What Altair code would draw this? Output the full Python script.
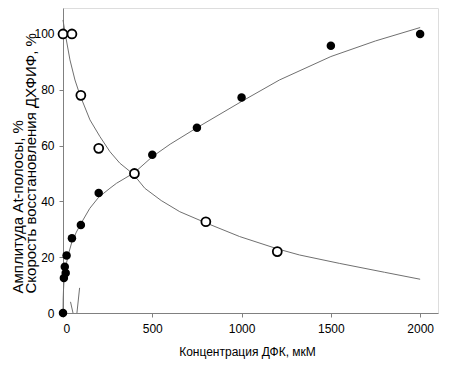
import altair as alt
import pandas as pd

# Filled circles: amplitude of At-band
amp_x = [0, 5, 10, 15, 20, 50, 100, 200, 400, 500, 750, 1000, 1500, 2000]
amp_y = [0, 12.5, 16.6, 14.3, 20.6, 26.8, 31.5, 43, 49.5, 56.7, 66.4, 77.2, 95.8, 100]

# Open circles: DCPIP reduction rate
rate_x = [0, 50, 100, 200, 400, 800, 1200]
rate_y = [100, 100, 78, 59, 50, 32.7, 22]

# Increasing fitted curve
up_x = [0, 1, 3, 6, 10, 20, 30, 50, 75, 100, 150, 200, 263, 300, 400, 500, 600, 750, 1000, 1212, 1500, 1750, 2000]
up_y = [0, 5, 8.5, 12, 14.5, 18, 21, 25.5, 29, 32, 37.5, 41.5, 44.7, 46.5, 50.3, 56, 60.5, 66.4, 75.8, 83.5, 91.9, 97.5, 102.3]

# Decreasing fitted curve
down_x = [0, 11, 39, 67, 95, 151, 207, 263, 318, 393, 458, 550, 654, 800, 989, 1200, 1324, 1547, 1800, 2000]
down_y = [105, 100.6, 90.7, 83.5, 78.1, 69.2, 63.2, 57.8, 53.7, 49.8, 44.7, 40.3, 36.3, 32.3, 27.4, 23, 20.8, 17.8, 14.6, 12.1]

# Short stray curve pieces near the origin
stray_x = [42, 56, 78, 93]
stray_y = [4, 0, 0, 9]
stray_g = ["a", "a", "b", "b"]

x_ticks = [0, 500, 1000, 1500, 2000]
y_ticks = [0, 20, 40, 60, 80, 100]

amp = pd.DataFrame({"x": amp_x, "y": amp_y})
rate = pd.DataFrame({"x": rate_x, "y": rate_y})
up = pd.DataFrame({"x": up_x, "y": up_y})
down = pd.DataFrame({"x": down_x, "y": down_y})
stray = pd.DataFrame({"x": stray_x, "y": stray_y, "g": stray_g})

FONT = "Liberation Sans"
GREY = "#808080"
CURVE = "#707070"

xs = alt.Scale(domain=[0, 2100], nice=False, zero=False)
ys = alt.Scale(domain=[0, 109.3], nice=False, zero=False)

x_axis = alt.Axis(
    values=x_ticks, grid=False, format="d", title="Концентрация ДФК, мкМ",
    domainColor=GREY, tickColor=GREY, tickSize=4, labelPadding=6,
    labelFont=FONT, labelFontSize=12, labelColor="black",
    titleFont=FONT, titleFontSize=12, titleFontWeight="normal", titleColor="black",
    titleX=184, titleY=42, titleAlign="center", titleBaseline="alphabetic",
)
y_axis = alt.Axis(
    values=y_ticks, grid=False, format="d",
    title=["Амплитуда At-полосы, %", "Скорость восстановления ДХФИФ, %"],
    domainColor=GREY, tickColor=GREY, tickSize=4, labelPadding=5,
    labelFont=FONT, labelFontSize=12, labelColor="black",
    titleFont=FONT, titleFontSize=15, titleFontWeight="normal", titleColor="black",
    titleAngle=270, titleAlign="left", titleBaseline="top",
    titleX=-53, titleY=285, titleLineHeight=13,
)

base_x = alt.X("x:Q", scale=xs, axis=x_axis)
base_y = alt.Y("y:Q", scale=ys, axis=y_axis)

up_line = alt.Chart(up).mark_line(color=CURVE, strokeWidth=1).encode(
    x=base_x, y=base_y, order="x:Q")
down_line = alt.Chart(down).mark_line(color=CURVE, strokeWidth=1).encode(
    x="x:Q", y="y:Q", order="x:Q")
stray_line = alt.Chart(stray).mark_line(color=CURVE, strokeWidth=1).encode(
    x="x:Q", y="y:Q", detail="g:N")
amp_pts = alt.Chart(amp).mark_point(
    shape="circle", filled=True, color="black", size=72, opacity=1).encode(
    x="x:Q", y="y:Q")
rate_pts = alt.Chart(rate).mark_point(
    shape="circle", filled=False, fill="white", fillOpacity=1, stroke="black",
    strokeWidth=1.8, size=80, opacity=1).encode(x="x:Q", y="y:Q")

chart = alt.layer(up_line, down_line, stray_line, amp_pts, rate_pts).properties(
    width=375, height=305,
    autosize=alt.AutoSizeParams(type="none"),
    padding={"left": 55, "top": 0, "right": 8, "bottom": 50},
).configure_view(stroke=GREY, strokeWidth=1).configure(background="white")

chart.save("out.html", embed_options={"renderer": "svg", "actions": False})
